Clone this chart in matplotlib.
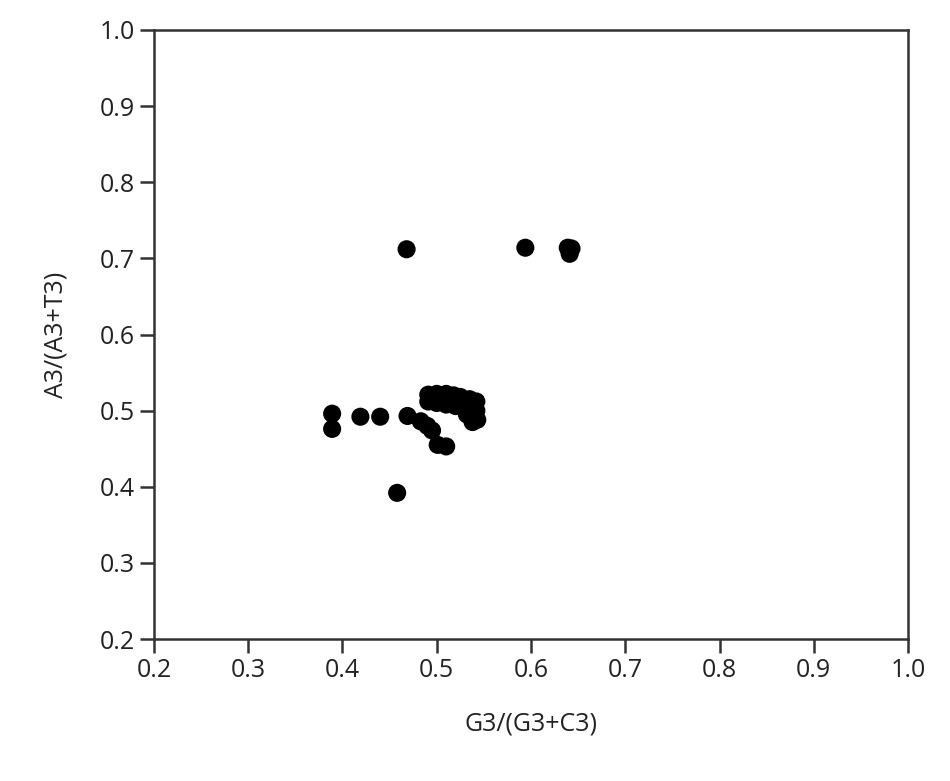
import matplotlib
matplotlib.use("Agg")
import matplotlib.pyplot as plt

# Data
gc_ratio = [0.468, 0.594, 0.639, 0.643, 0.641,
            0.458,
            0.389, 0.389, 0.419, 0.440, 0.469,
            0.483, 0.490, 0.495,
            0.501, 0.510,
            0.491, 0.500, 0.510, 0.518, 0.525,
            0.491, 0.500, 0.510, 0.520, 0.530,
            0.535, 0.542, 0.542, 0.543, 0.538, 0.532]
at_ratio = [0.712, 0.714, 0.714, 0.713, 0.706,
            0.392,
            0.496, 0.476, 0.492, 0.492, 0.493,
            0.486, 0.480, 0.474,
            0.455, 0.453,
            0.521, 0.522, 0.522, 0.520, 0.518,
            0.512, 0.510, 0.508, 0.506, 0.505,
            0.515, 0.512, 0.500, 0.488, 0.485, 0.495]
ticks = [0.2, 0.3, 0.4, 0.5, 0.6, 0.7, 0.8, 0.9, 1.0]

plt.rcParams['font.family'] = ['Open Sans', 'DejaVu Sans']

fig = plt.figure(figsize=(9.5, 7.81), dpi=100)
ax = fig.add_axes([0.1621, 0.1818, 0.7937, 0.7798])
ax.scatter(gc_ratio, at_ratio, s=170, color='black', edgecolors='none', zorder=3)
ax.set_xlim(0.2, 1.0)
ax.set_ylim(0.2, 1.0)
ax.set_xticks(ticks)
ax.set_yticks(ticks)
ax.set_xticklabels([f"{t:.1f}" for t in ticks])
ax.set_yticklabels([f"{t:.1f}" for t in ticks])
for s in ax.spines.values():
    s.set_linewidth(1.8)
    s.set_color('#333333')
ax.tick_params(direction='out', length=10, width=1.8, color='#333333',
               labelsize=18, labelcolor='#222222', pad=4)
ax.set_xlabel('G3/(G3+C3)', fontsize=18, color='#222222', labelpad=20)
ax.set_ylabel('A3/(A3+T3)', fontsize=18, color='#222222', labelpad=22)
fig.savefig('out.png', dpi=100)
